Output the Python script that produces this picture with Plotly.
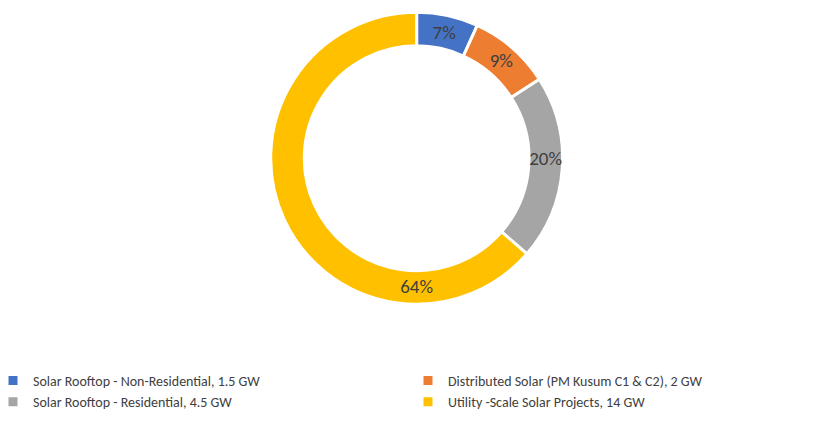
import plotly.graph_objects as go

labels = [
    'Solar Rooftop - Non-Residential, 1.5 GW',
    'Distributed Solar (PM Kusum C1 & C2), 2 GW',
    'Solar Rooftop - Residential, 4.5 GW',
    'Utility -Scale Solar Projects, 14 GW',
]
values = [1.5, 2, 4.5, 14]
colors = ['#4472C4', '#ED7D31', '#A5A5A5', '#FFC000']

fig = go.Figure(go.Pie(
    labels=labels, values=values, hole=0.77, sort=False,
    direction='clockwise', rotation=0,
    marker=dict(colors=colors, line=dict(color='white', width=3)),
    textinfo='percent', texttemplate='%{percent:.0%}',
    textposition='inside', insidetextorientation='horizontal',
    textfont=dict(color='#404040', size=19, family='Carlito, Calibri, Lato, sans-serif'),
    domain=dict(x=[0.315, 0.665], y=[0.303, 0.99]),
    hoverinfo='label+percent',
))

fig.update_layout(
    width=834, height=425, template='plotly_white',
    margin=dict(l=0, r=0, t=0, b=0),
    paper_bgcolor='white', plot_bgcolor='white',
    uniformtext=dict(minsize=19, mode='show'),
    legend=dict(
        orientation='h', x=0, xanchor='left', y=0.16, yanchor='top',
        entrywidth=385, entrywidthmode='pixels', traceorder='normal',
        indentation=-15,
        font=dict(size=14, color='#404040', family='Carlito, Calibri, Lato, sans-serif'),
        itemwidth=30,
    ),
)

fig.write_html("out.html")
